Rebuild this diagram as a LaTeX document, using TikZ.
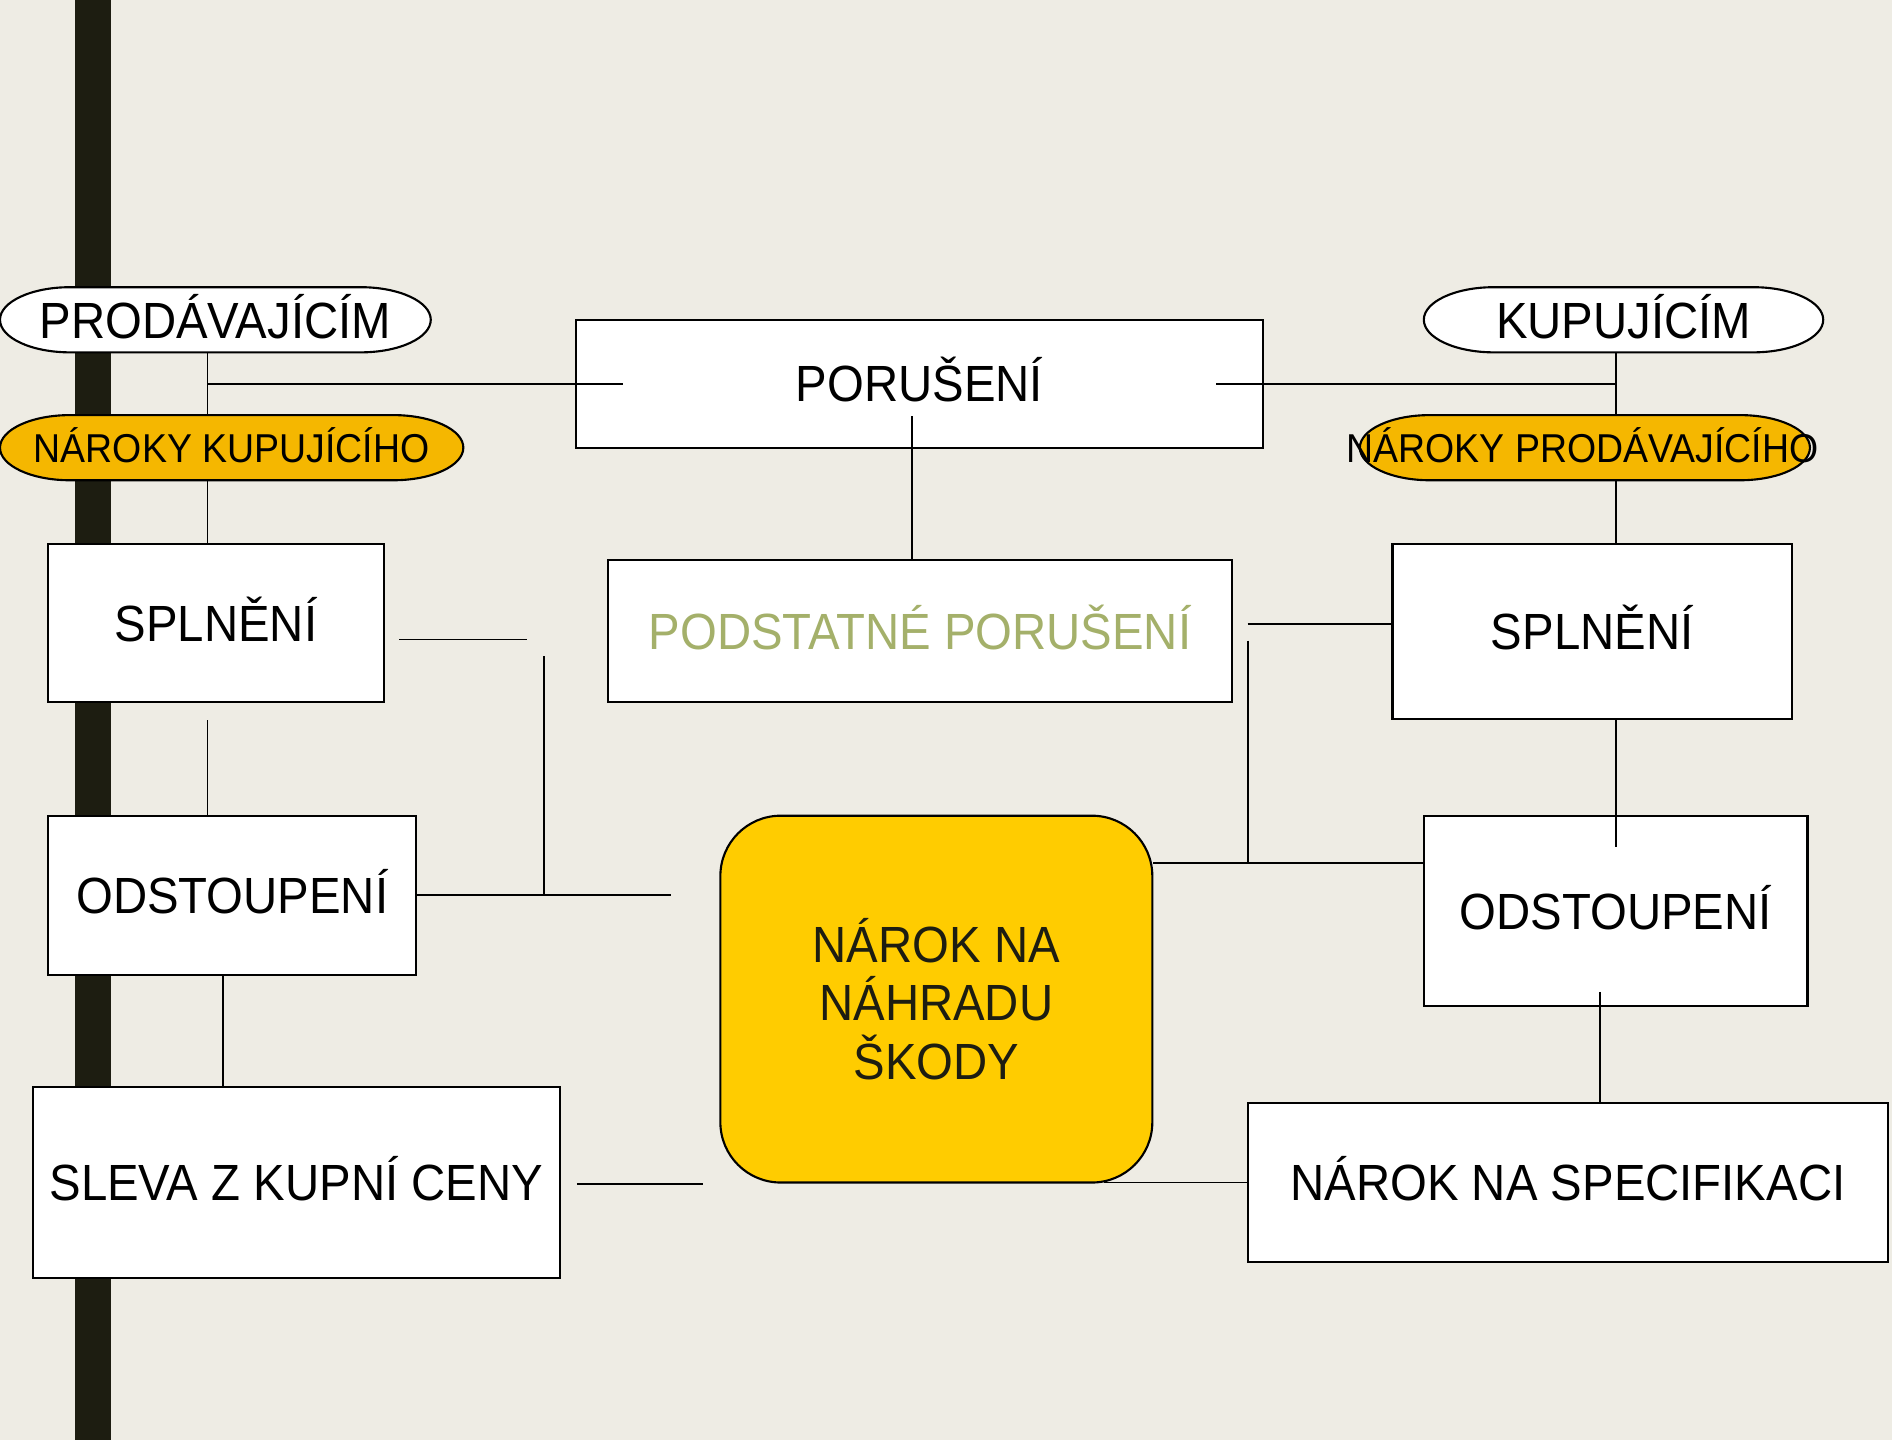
\documentclass[tikz,border=0pt]{standalone}
\usepackage{fontspec}
\setmainfont{Liberation Sans}[FakeStretch=0.93]
\definecolor{paper}{RGB}{238,236,228}
\definecolor{bar}{RGB}{29,29,17}
\definecolor{amber}{RGB}{245,183,0}
\definecolor{gold}{RGB}{255,204,0}
\definecolor{olive}{RGB}{164,176,106}
% flat oval: centre x, centre y, half width, fill
\newcommand{\pill}[4]{%
  \filldraw[line width=0.5pt, fill=#4] (#1-#3,#2)
    arc[start angle=180, end angle=90, x radius=58, y radius=27] -- ++(2*#3-116,0)
    arc[start angle=90, end angle=0, x radius=58, y radius=27]
    arc[start angle=0, end angle=-90, x radius=58, y radius=27] -- ++(116-2*#3,0)
    arc[start angle=-90, end angle=-180, x radius=58, y radius=27] -- cycle;}
\tikzset{
  txt/.style={inner sep=0pt, font=\fontsize{12}{14}\selectfont, text height=8.6pt, text depth=0pt},
  box/.style={txt, draw, fill=white, line width=0.5pt},
  tag/.style={txt, minimum height=5.4mm},
  smalltag/.style={tag, font=\fontsize{9.5}{11}\selectfont, text height=6.8pt},
  goldbox/.style={draw, fill=gold, line width=0.5pt, inner sep=0pt, rounded corners=5mm, align=center, text=bar, font=\fontsize{12}{13.7}\selectfont},
  link/.style={line width=0.45pt},
}
\begin{document}
\begin{tikzpicture}[x=0.1mm, y=-0.1mm]
\useasboundingbox (0,0) rectangle (1568,1193);
\fill[paper] (0,0) rectangle (1568,1193);
\fill[bar] (62,0) rectangle (92,1193);
% parties and breach
\pill{178.5}{265}{178.5}{white}
\node[tag, minimum width=35.7mm] (prodavajicim) at (178.5,265) {PRODÁVAJÍCÍM};
\pill{1345.5}{265}{165.5}{white}
\node[tag, minimum width=33.1mm] (kupujicim) at (1345.5,265) {KUPUJÍCÍM};
\node[box, minimum width=57mm, minimum height=10.6mm] (poruseni) at (762,318) {PORUŠENÍ};
\pill{192}{371}{192}{amber}
\node[smalltag, minimum width=38.4mm] (narokyK) at (192,371) {NÁROKY KUPUJÍCÍHO};
\pill{1313.5}{371}{186.5}{amber}
\node[smalltag, minimum width=37.3mm] (narokyP) at (1311.5,371) {NÁROKY PRODÁVAJÍCÍHO};
% remedies
\node[box, minimum width=27.8mm, minimum height=13.1mm] (splneniL) at (179,516.5) {SPLNĚNÍ};
\node[box, minimum width=51.7mm, minimum height=11.8mm, text=olive] (podstatne) at (762.5,523) {PODSTATNÉ PORUŠENÍ};
\node[box, minimum width=33.1mm, minimum height=14.5mm] (splneniR) at (1319.5,523.5) {SPLNĚNÍ};
\node[box, minimum width=30.5mm, minimum height=13.2mm] (odstoupeniL) at (192.5,742) {ODSTOUPENÍ};
\node[box, minimum width=31.8mm, minimum height=15.8mm] (odstoupeniR) at (1339,755) {ODSTOUPENÍ};
\node[goldbox, minimum width=35.8mm, minimum height=30.4mm] (skoda) at (776,828) {NÁROK NA\\NÁHRADU\\ŠKODY};
\node[box, minimum width=43.7mm, minimum height=15.8mm] (sleva) at (245.5,980) {SLEVA Z KUPNÍ CENY};
\node[box, minimum width=53.1mm, minimum height=13.2mm] (specifikace) at (1299.5,980) {NÁROK NA SPECIFIKACI};
% left side
\coordinate (spineL) at (172,318);
\coordinate (porL) at (516,318);
\draw[link] (prodavajicim.south -| spineL) -- (narokyK.north -| spineL);
\draw[link] (spineL) -- (porL);
\draw[link] (narokyK.south -| spineL) -- (splneniL.north -| spineL);
\coordinate (splA) at (331,530);
\coordinate (splB) at (437,530);
\draw[link] (splA) -- (splB);
\coordinate (forkTop) at (451,544);
\coordinate (forkL) at (451,742);
\draw[link] (forkTop) -- (forkL);
\coordinate (odsE) at (556,742);
\draw[link] (odstoupeniL.east) -- (odsE);
\coordinate (splDown) at (172,597);
\draw[link] (splDown) -- (odstoupeniL.north -| splDown);
\coordinate (slevaUp) at (185,901);
\draw[link] (odstoupeniL.south -| slevaUp) -- (sleva.north -| slevaUp);
\coordinate (slevaA) at (478,981);
\coordinate (slevaB) at (583,981);
\draw[link] (slevaA) -- (slevaB);
% middle
\coordinate (porD) at (756,345);
\draw[link] (porD) -- (podstatne.north -| porD);
% right side
\coordinate (spineR) at (1339,318);
\coordinate (porR) at (1008,318);
\draw[link] (porR) -- (spineR);
\draw[link] (kupujicim.south -| spineR) -- (narokyP.north -| spineR);
\draw[link] (narokyP.south -| spineR) -- (splneniR.north -| spineR);
\coordinate (podE) at (1034,517);
\draw[link] (podE) -- (splneniR.west |- podE);
\coordinate (forkRTop) at (1034,531);
\coordinate (forkR) at (1034,715);
\draw[link] (forkRTop) -- (forkR);
\draw[link] (skoda.east |- forkR) -- (odstoupeniR.west |- forkR);
\coordinate (odsIn) at (1339,702);
\draw[link] (splneniR.south -| odsIn) -- (odsIn);
\coordinate (specUp) at (1326,822);
\draw[link] (specUp) -- (specifikace.north -| specUp);
\coordinate (skodaB) at (915,980);
\draw[link] (skodaB) -- (specifikace.west);
\end{tikzpicture}
\end{document}
